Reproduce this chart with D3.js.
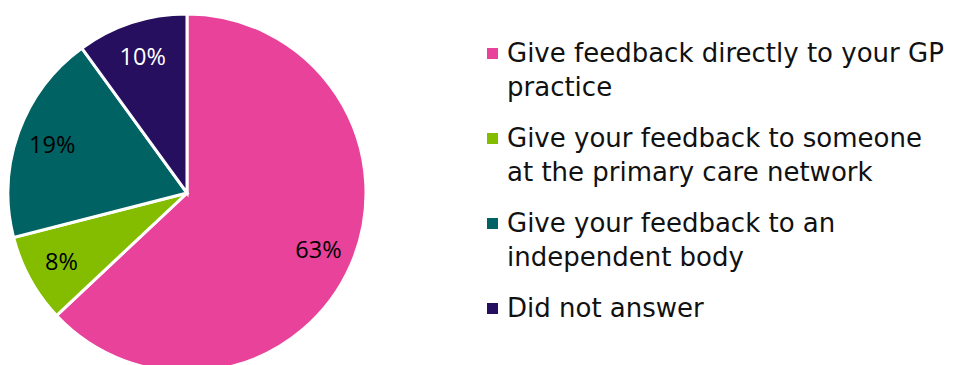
<!DOCTYPE html>
<html>
<head>
<meta charset="utf-8">
<script src="https://cdn.jsdelivr.net/npm/d3@7"></script>
<style>
  html, body { margin: 0; padding: 0; background: #fff; }
  svg { display: block; }
</style>
</head>
<body>
<svg id="chart" width="953" height="365"></svg>
<script>
// Survey responses: where people would give feedback
const categories = [
  "Give feedback directly to your GP practice",
  "Give your feedback to someone at the primary care network",
  "Give your feedback to an independent body",
  "Did not answer"
];
const legendLines = [
  ["Give feedback directly to your GP", "practice"],
  ["Give your feedback to someone", "at the primary care network"],
  ["Give your feedback to an", "independent body"],
  ["Did not answer"]
];
const values = [63, 8, 19, 10];
const colors = ["#E8429A", "#84BD00", "#006262", "#270F5F"];
const labelColors = ["#000", "#000", "#000", "#fff"];

const svg = d3.select("#chart");
const cx = 187, cy = 193, radius = 179;

const pie = d3.pie().sort(null).value(d => d)(values);
const arc = d3.arc().innerRadius(0).outerRadius(radius);
const labelArc = d3.arc().innerRadius(radius * 0.8).outerRadius(radius * 0.8);

const g = svg.append("g").attr("transform", `translate(${cx},${cy})`);

g.selectAll("path.slice")
  .data(pie)
  .join("path")
  .attr("class", "slice")
  .attr("d", arc)
  .attr("fill", (d, i) => colors[i])
  .attr("stroke", "#fff")
  .attr("stroke-width", 3)
  .attr("stroke-linejoin", "miter");

g.selectAll("text.pct")
  .data(pie)
  .join("text")
  .attr("class", "pct")
  .attr("transform", d => `translate(${labelArc.centroid(d)})`)
  .attr("text-anchor", "middle")
  .attr("dy", "0.36em")
  .attr("font-family", "'Open Sans', sans-serif")
  .attr("font-size", 23.5)
  .attr("fill", (d, i) => labelColors[i])
  .text(d => d.data + "%");

// Legend
const legend = svg.append("g").attr("transform", "translate(487,62)");
const item = legend.selectAll("g.item")
  .data(categories)
  .join("g")
  .attr("class", "item")
  .attr("transform", (d, i) => `translate(0,${i * 85})`);

item.append("rect")
  .attr("x", 0)
  .attr("y", -14)
  .attr("width", 11)
  .attr("height", 11)
  .attr("fill", (d, i) => colors[i]);

item.append("text")
  .attr("x", 20)
  .attr("font-family", "'DejaVu Sans', sans-serif")
  .attr("font-size", 26)
  .attr("fill", "#111")
  .selectAll("tspan")
  .data((d, i) => legendLines[i])
  .join("tspan")
  .attr("x", 20)
  .attr("dy", (d, j) => j === 0 ? 0 : 34.3)
  .text(d => d);
</script>
</body>
</html>
